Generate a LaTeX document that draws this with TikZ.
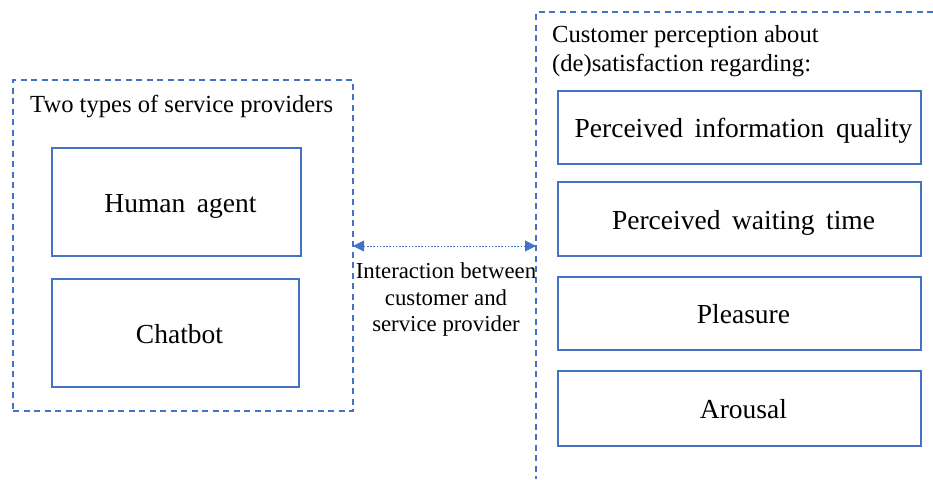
\documentclass[tikz,border=0pt]{standalone}
\usepackage{fontspec}
\setmainfont{Liberation Serif}
\usetikzlibrary{arrows.meta}
\definecolor{bl}{HTML}{4472C4}
\newcommand\myitemfont{\fontsize{27.5}{32}\selectfont\spaceskip=0.42em plus 0.1em\relax}
\tikzset{
  group/.style={draw=bl, line width=1.4pt, dash pattern=on 6pt off 4.5pt},
  itembox/.style={draw=bl, line width=1.4pt, rectangle, inner sep=0pt,
     text height=24pt, text depth=4pt, font=\myitemfont, execute at begin node=\hspace*{8pt}},
  heading/.style={inner sep=0pt, anchor=west, align=left, font=\fontsize{24.6}{29}\selectfont},
  link/.style={draw=bl, line width=0.9pt, dash pattern=on 1.6pt off 1.6pt,
     {Triangle[width=11pt,length=11pt]}-{Triangle[width=11pt,length=11pt]}}
}
\begin{document}
\begin{tikzpicture}[x=1pt,y=-1pt]
\useasboundingbox (0,0) rectangle (933,479);
% left group
\node[group, rectangle, minimum width=340pt, minimum height=331pt, inner sep=0pt] (left) at (183,245.5) {};
\node[heading] (lefttitle) at (30,106) {Two types of service providers};
\node[itembox, minimum width=249pt, minimum height=108pt] (human) at (176.5,202) {Human agent};
\node[itembox, minimum width=247pt, minimum height=108pt] (chatbot) at (175.5,333) {Chatbot};
% right group (open to the right and bottom)
\coordinate (rtl) at (536,12);
\coordinate (rtr) at (933,12);
\coordinate (rbl) at (536,479);
\draw[group] (rtr) -- (rtl) -- (rbl);
\node[heading] (righttitle) at (552,51) {Customer perception about\\(de)satisfaction regarding:};
\node[itembox, minimum width=363pt, minimum height=73pt] (piq) at (739.5,127.5) {Perceived information quality};
\node[itembox, minimum width=363pt, minimum height=74pt] (pwt) at (739.5,219) {Perceived waiting time};
\node[itembox, minimum width=363pt, minimum height=73pt] (pleasure) at (739.5,313.5) {Pleasure};
\node[itembox, minimum width=363pt, minimum height=75pt] (arousal) at (739.5,408.5) {Arousal};
% interaction
\coordinate (a1) at (353,246);
\coordinate (a2) at (536,246);
\draw[link] (a1) -- (a2);
\node[inner sep=0pt, align=center, font=\fontsize{22.8}{26.5}\selectfont] (inter) at (446,300) {Interaction between\\customer and\\service provider};
\end{tikzpicture}
\end{document}
